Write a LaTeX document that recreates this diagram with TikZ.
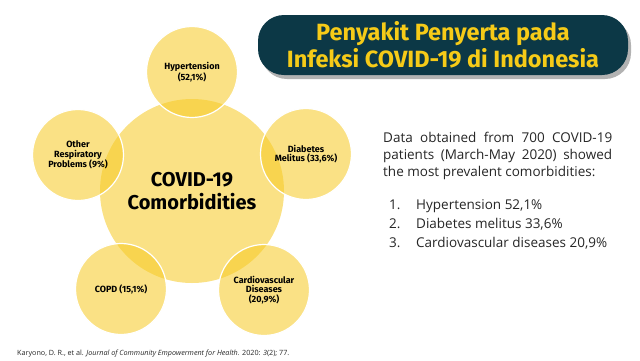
\documentclass[tikz,border=0pt]{standalone}
\usepackage{fontspec}
\setmainfont{Open Sans}
\newfontfamily\headfont{Fira Sans}
\definecolor{bubble}{RGB}{246,202,37}
\definecolor{titlebg}{RGB}{12,56,70}
\definecolor{titlefg}{RGB}{246,203,24}
\begin{document}
\begin{tikzpicture}[x=1pt,y=-1pt,
  bigbub/.style={circle, minimum size=184pt, inner sep=0pt, fill=bubble, fill opacity=0.56, text opacity=1, align=center, font=\headfont\bfseries\fontsize{20}{22.5}\selectfont},
  smallbub/.style={circle, minimum size=91pt, inner sep=0pt, fill=bubble, fill opacity=0.56, draw=white, draw opacity=1, line width=1.2pt, text opacity=1, align=center, font=\headfont\bfseries\fontsize{9}{9.6}\selectfont},
  bodytext/.style={anchor=base west, inner sep=0pt, font=\fontsize{13.5}{17}\selectfont, text=black!85},
]
\useasboundingbox (0,0) rectangle (640,360);
% circles
\node[bigbub] (main) at (192,191) {COVID-19\\Comorbidities};
\node[smallbub] (hyp) at (192,72) {Hypertension\\(52,1\%)};
\node[smallbub] (resp) at (78,155) {Other\\Respiratory\\Problems (9\%)};
\node[smallbub] (diab) at (306,154) {Diabetes\\Melitus (33,6\%)};
\node[smallbub] (copd) at (121,289) {COPD (15,1\%)};
\node[smallbub] (cardio) at (264,290) {Cardiovascular\\Diseases\\(20,9\%)};
% title
\fill[black, opacity=0.3, rounded corners=26pt] (261,19) rectangle (631,79);
\fill[titlebg, rounded corners=26pt] (258,15) rectangle (628,75);
\node[text=titlefg, align=center, font=\headfont\bfseries\fontsize{23.5}{27}\selectfont] (title) at (443,45) {Penyakit Penyerta pada\\Infeksi COVID-19 di Indonesia};
% body text
\node[bodytext] (l1) at (383,142) {\makebox[229pt][s]{Data obtained from 700 COVID-19}};
\node[bodytext] (l2) at (383,159) {\makebox[229pt][s]{patients (March-May 2020) showed}};
\node[bodytext] (l3) at (383,176) {the most prevalent comorbidities:};
\node[bodytext] (n1) at (389,209) {1.};
\node[bodytext] (t1) at (416,209) {Hypertension 52,1\%};
\node[bodytext] (n2) at (389,228) {2.};
\node[bodytext] (t2) at (416,228) {Diabetes melitus 33,6\%};
\node[bodytext] (n3) at (389,247) {3.};
\node[bodytext] (t3) at (416,247) {Cardiovascular diseases 20,9\%};
% citation
\node[anchor=base west, inner sep=0pt, font=\fontsize{7.2}{8}\selectfont, text=black!85] (cite) at (17,355) {Karyono, D. R., et al. \textit{Journal of Community Empowerment for Health.} 2020: \textit{3}(2); 77.};
\end{tikzpicture}
\end{document}
